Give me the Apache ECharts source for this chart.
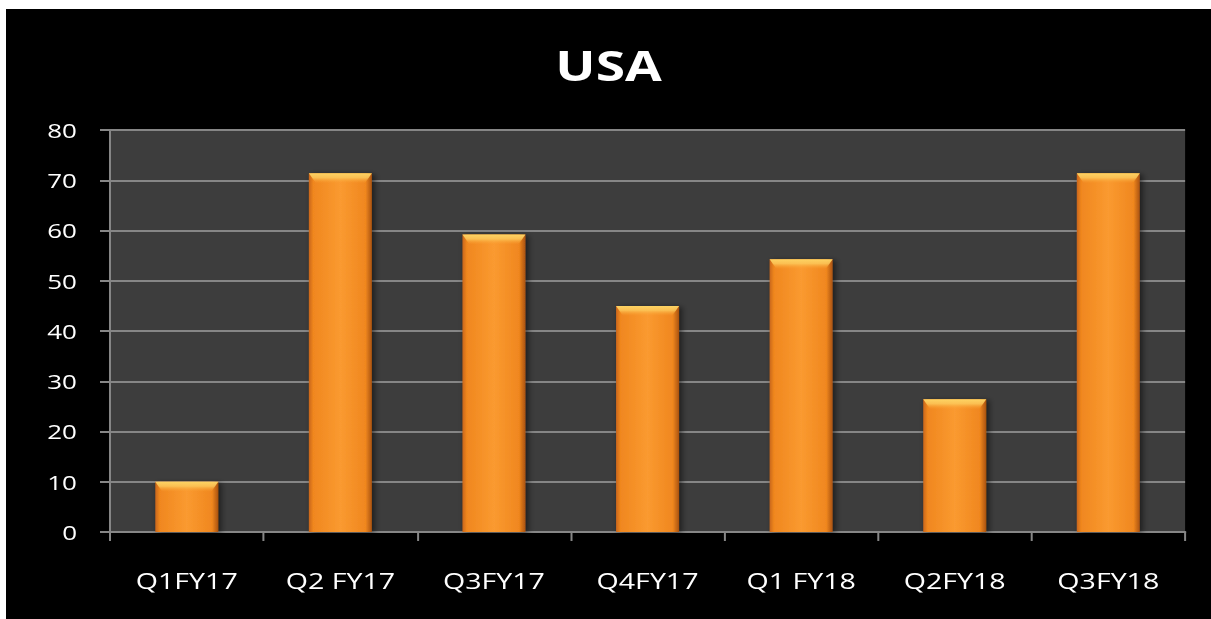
<!DOCTYPE html>
<html>
<head>
<meta charset="utf-8">
<script src="https://cdn.jsdelivr.net/npm/echarts@6/dist/echarts.min.js"></script>
<style>
html,body{margin:0;padding:0;background:#000000;width:1211px;height:619px;overflow:hidden;}
#topband{position:absolute;left:0;top:0;width:1211px;height:9px;background:#ffffff;}
#leftband{position:absolute;left:0;top:0;width:6px;height:619px;background:#ffffff;}
#chart{position:absolute;left:6px;top:9px;width:927px;height:610px;transform-origin:0 0;transform:scaleX(1.3);}
</style>
</head>
<body>
<div id="topband"></div>
<div id="leftband"></div>
<div id="chart"></div>
<script>
const titleText = "USA";
const categories = ["Q1FY17", "Q2 FY17", "Q3FY17", "Q4FY17", "Q1 FY18", "Q2FY18", "Q3FY18"];
const values = [10, 71.4, 59.2, 45, 54.3, 26.4, 71.4];
const yTicks = { min: 0, max: 80, interval: 10 };

const S = 1.3; // horizontal stretch of the reference rendering
const BW = 63 / S;
const chart = echarts.init(document.getElementById('chart'), null, { renderer: 'svg' });
const font = "'Open Sans', 'Noto Sans', sans-serif";
chart.setOption({
  backgroundColor: '#000000',
  animation: false,
  title: {
    text: titleText,
    left: 'center',
    top: 36,
    padding: 0,
    textStyle: { color: '#ffffff', fontSize: 41, fontWeight: 'bold', fontFamily: font }
  },
  grid: {
    left: 104 / S, right: 26 / S, top: 121, bottom: 87,
    show: true, backgroundColor: '#3d3d3d', borderWidth: 0
  },
  xAxis: {
    type: 'category',
    data: categories,
    axisLine: { show: true, lineStyle: { color: '#868686', width: 2 } },
    axisTick: { show: true, length: 9, lineStyle: { color: '#868686', width: 2 / S } },
    axisLabel: { color: '#ffffff', fontSize: 22, fontFamily: font, margin: 37 },
    splitLine: { show: false }
  },
  yAxis: {
    type: 'value',
    min: yTicks.min, max: yTicks.max, interval: yTicks.interval,
    axisLine: { show: true, lineStyle: { color: '#868686', width: 2 / S } },
    axisTick: { show: true, length: 10 / S, lineStyle: { color: '#868686', width: 2 } },
    axisLabel: { color: '#ffffff', fontSize: 20, fontFamily: font, margin: 33 / S },
    splitLine: { show: true, lineStyle: { color: '#868686', width: 2 } }
  },
  series: [{
    type: 'bar',
    data: values,
    barWidth: BW,
    itemStyle: {
      color: new echarts.graphic.LinearGradient(0, 0, 1, 0, [
        { offset: 0, color: '#c9661a' },
        { offset: 0.07, color: '#f0871f' },
        { offset: 0.5, color: '#fa9a30' },
        { offset: 0.9, color: '#f0871f' },
        { offset: 1, color: '#a9520f' }
      ]),
      shadowColor: 'rgba(0,0,0,0.55)',
      shadowBlur: 5,
      shadowOffsetX: 2,
      shadowOffsetY: 1
    }
  }, {
    type: 'custom',
    silent: true,
    z: 3,
    data: values.map((v, i) => [i, v]),
    renderItem: function (params, api) {
      const p = api.coord([api.value(0), api.value(1)]);
      const x0 = p[0] - BW / 2, x1 = p[0] + BW / 2, y0 = p[1], h = 10, c = 7 / S;
      return {
        type: 'polygon',
        shape: { points: [[x0, y0], [x1, y0], [x1 - c, y0 + h], [x0 + c, y0 + h]] },
        style: {
          fill: new echarts.graphic.LinearGradient(0, 0, 0, 1, [
            { offset: 0, color: 'rgba(253,212,100,1)' },
            { offset: 0.45, color: 'rgba(252,200,90,0.85)' },
            { offset: 1, color: 'rgba(250,160,50,0)' }
          ])
        }
      };
    }
  }]
});
</script>
</body>
</html>
